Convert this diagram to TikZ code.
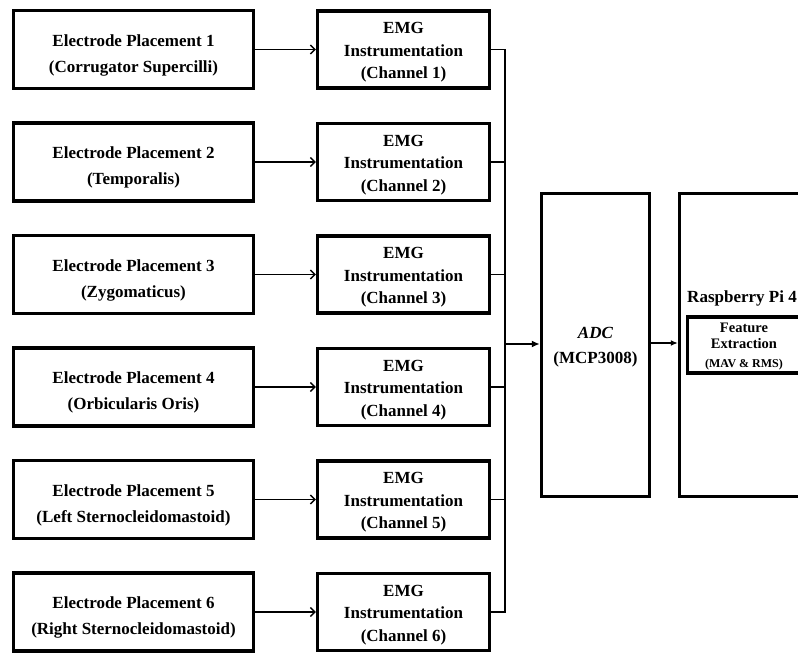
\documentclass[tikz,border=0pt]{standalone}
\usepackage{fontspec}
\setmainfont{Liberation Serif}
\usetikzlibrary{arrows.meta,shadows}
\begin{document}
\begin{tikzpicture}[x=1pt,y=-1pt,
  shad/.style={drop shadow={shadow xshift=1.5pt,shadow yshift=-1.8pt,opacity=0.22}},
  box/.style={draw,line width=3.4pt,fill=white,inner sep=0pt,shad},
  lbox/.style={box,minimum width=240pt,minimum height=78pt},
  mbox/.style={box,minimum width=172pt,minimum height=77pt},
  txt/.style={align=center,inner sep=0pt,font=\fontsize{17}{26}\selectfont\bfseries},
  mtxt/.style={txt,font=\fontsize{17}{22.5}\selectfont\bfseries},
  arr/.style={line width=1.4pt,-{Straight Barb[length=4.5pt,width=9pt]}},
  busline/.style={line width=1.1pt},
  lbl/.style={font=\fontsize{17}{20}\selectfont\bfseries,inner sep=0pt}
]
\useasboundingbox (0,0) rectangle (798,655);
\fill[white] (0,0) rectangle (798,655);
\clip (0,0) rectangle (798,655);
\coordinate (bj) at (505,344);
\foreach \k/\t in {1/Corrugator Supercilli,2/Temporalis,3/Zygomaticus,4/Orbicularis Oris,5/Left Sternocleidomastoid,6/Right Sternocleidomastoid}{
  \node[lbox] (e\k) at (133.5,{49.5+(\k-1)*112.5}) {};
  \node[txt] (et\k) at ([yshift=-5.5pt]e\k.center) {Electrode Placement \k\\(\t)};
  \node[mbox] (m\k) at (403.5,{49.5+(\k-1)*112.5}) {};
  \node[mtxt] (mt\k) at ([yshift=-3pt]m\k.center) {EMG\\Instrumentation\\(Channel \k)};
  \draw[arr] (e\k) -- (m\k);
  \draw[busline] (m\k.east) -| (bj);
}
\node[box,minimum width=108pt,minimum height=303pt] (adc) at (595.5,345) {};
\node[txt,font=\fontsize{17}{25}\selectfont\bfseries] (adct) at ([yshift=-2.5pt]adc.center) {\textit{ADC}\\(MCP3008)};
\node[box,minimum width=220pt,minimum height=303pt] (rpi) at (789.5,345) {};
\node[lbl] (rpil) at (742,298) {Raspberry Pi 4};
\node[box,minimum width=113pt,minimum height=56pt] (feat) at (744,345) {};
\node[txt,font=\fontsize{14.5}{16}\selectfont\bfseries] (featt) at ([yshift=-1.5pt]feat.center) {Feature\\Extraction\\[3pt]{\fontsize{12}{13}\selectfont (MAV \& RMS)}};
\draw[line width=2pt,-{Latex[length=8pt,width=7pt]}] (bj) -- (bj -| adc.west);
\draw[line width=1.3pt,-{Latex[length=7pt,width=6pt]}] (adc.east |- 0,343) -- (rpi.west |- 0,343);
\end{tikzpicture}
\end{document}
